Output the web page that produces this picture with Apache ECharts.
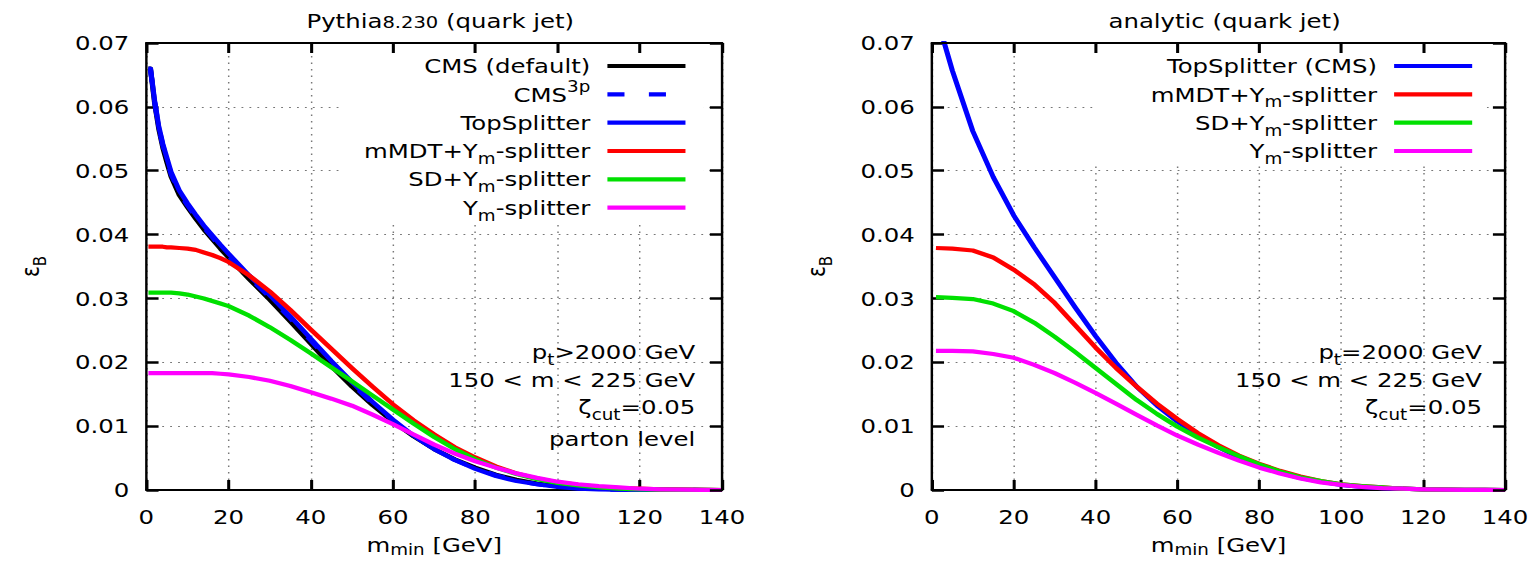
<!DOCTYPE html>
<html>
<head>
<meta charset="utf-8">
<script src="https://cdn.jsdelivr.net/npm/echarts@6.0.0/dist/echarts.min.js"></script>
<style>
html, body { margin: 0; padding: 0; background: #fff; overflow: hidden; }
/* the reference is stretched sideways, so draw narrow and scale on x */
#chart { width: 1261px; height: 562px; transform: scaleX(1.2197); transform-origin: 0 0; }
</style>
</head>
<body>
<div id="chart"></div>
<script>
// ---- data ----
var xLeft = [0.5, 1, 2, 3, 4, 5, 6, 8, 10, 12, 14, 16, 18, 20, 25, 30, 35, 40, 45, 50, 55, 60, 65, 70, 75, 80, 85, 90, 95, 100, 105, 110, 115, 120, 125, 130, 135, 140]
var cmsDefault = [0.0660, 0.0660, 0.0606, 0.0566, 0.0536, 0.0513, 0.0491, 0.0462, 0.0443, 0.0425, 0.0408, 0.0393, 0.0378, 0.0364, 0.0330, 0.0298, 0.0264, 0.0229, 0.0194, 0.0162, 0.0133, 0.0107, 0.0084, 0.0064, 0.0048, 0.0035, 0.0024, 0.0016, 0.0010, 0.0006, 0.0003, 0.0002, 0.0001, 0.0001, 0.00005, 0.00003, 0.00001, 0]
var cms3p = [0.0658, 0.0658, 0.0608, 0.0568, 0.0540, 0.0517, 0.0495, 0.0466, 0.0446, 0.0428, 0.0411, 0.0396, 0.0381, 0.0367, 0.0333, 0.0302, 0.0269, 0.0234, 0.0199, 0.0166, 0.0136, 0.0109, 0.0085, 0.0064, 0.0047, 0.0034, 0.0023, 0.0015, 0.0009, 0.0005, 0.0003, 0.0001, 0.00005, 0.00003, 0.00002, 0.00001, 0, 0]
var topSplitterL = [0.0660, 0.0660, 0.0610, 0.0570, 0.0542, 0.0520, 0.0498, 0.0469, 0.0449, 0.0431, 0.0414, 0.0399, 0.0384, 0.0370, 0.0336, 0.0305, 0.0272, 0.0237, 0.0202, 0.0169, 0.0138, 0.0110, 0.0085, 0.0064, 0.0047, 0.0033, 0.0022, 0.0014, 0.0009, 0.0005, 0.0002, 0.0001, 0.00005, 0.00003, 0.00002, 0.00001, 0, 0]
var mmdtL = [0.0381, 0.0381, 0.0381, 0.0381, 0.0381, 0.0380, 0.0380, 0.0379, 0.0378, 0.0376, 0.0372, 0.0368, 0.0363, 0.0357, 0.0336, 0.0311, 0.0282, 0.0251, 0.0221, 0.0191, 0.0162, 0.0134, 0.0109, 0.0087, 0.0067, 0.0051, 0.0037, 0.0026, 0.0018, 0.0012, 0.0008, 0.0005, 0.0003, 0.0002, 0.0001, 0.00005, 0.00002, 0]
var sdL = [0.0309, 0.0309, 0.0309, 0.0309, 0.0309, 0.0309, 0.0309, 0.0308, 0.0306, 0.0303, 0.0300, 0.0296, 0.0292, 0.0288, 0.0273, 0.0255, 0.0235, 0.0214, 0.0192, 0.0170, 0.0148, 0.0126, 0.0104, 0.0083, 0.0064, 0.0048, 0.0035, 0.0025, 0.0017, 0.0011, 0.0007, 0.0004, 0.0002, 0.0001, 0.00005, 0.00002, 0.00001, 0]
var ymL = [0.0183, 0.0183, 0.0183, 0.0183, 0.0183, 0.0183, 0.0183, 0.0183, 0.0183, 0.0183, 0.0183, 0.0183, 0.0182, 0.0181, 0.0177, 0.0171, 0.0163, 0.0153, 0.0143, 0.0132, 0.0118, 0.0103, 0.0087, 0.0071, 0.0057, 0.0045, 0.0035, 0.0026, 0.0019, 0.0013, 0.0009, 0.0006, 0.0004, 0.0002, 0.0001, 0.00005, 0.00002, 0]

var xRight = [1, 5, 10, 15, 20, 25, 30, 35, 40, 45, 50, 55, 60, 65, 70, 75, 80, 85, 90, 95, 100, 105, 110, 115, 120, 125, 130, 135, 140]
var topSplitterR = [0.0745, 0.0657, 0.0562, 0.0490, 0.0430, 0.0380, 0.0333, 0.0286, 0.0241, 0.0199, 0.0162, 0.0132, 0.0107, 0.0086, 0.0067, 0.0051, 0.0038, 0.0027, 0.0019, 0.0013, 0.0008, 0.0005, 0.0003, 0.0002, 0.0001, 0.00005, 0.00002, 0.00001, 0]
var mmdtR = [0.0379, 0.0378, 0.0375, 0.0364, 0.0345, 0.0322, 0.0293, 0.0258, 0.0223, 0.0191, 0.0162, 0.0135, 0.0111, 0.0089, 0.0070, 0.0054, 0.0041, 0.0030, 0.0021, 0.0014, 0.0009, 0.0006, 0.0004, 0.0002, 0.0001, 0.00005, 0.00002, 0.00001, 0]
var sdR = [0.0302, 0.0301, 0.0299, 0.0292, 0.0280, 0.0262, 0.0240, 0.0216, 0.0191, 0.0166, 0.0141, 0.0119, 0.0099, 0.0082, 0.0067, 0.0053, 0.0040, 0.0029, 0.0020, 0.0014, 0.0009, 0.0006, 0.0004, 0.0002, 0.0001, 0.00005, 0.00002, 0.00001, 0]
var ymR = [0.0218, 0.0218, 0.0217, 0.0213, 0.0207, 0.0196, 0.0183, 0.0168, 0.0152, 0.0135, 0.0118, 0.0101, 0.0085, 0.0071, 0.0058, 0.0046, 0.0035, 0.0026, 0.0018, 0.0012, 0.0008, 0.0005, 0.0003, 0.0002, 0.0001, 0.00005, 0.00002, 0.00001, 0]

var yTickLabels = ['0', '0.01', '0.02', '0.03', '0.04', '0.05', '0.06', '0.07']
var xTickLabels = ['0', '20', '40', '60', '80', '100', '120', '140']

// ---- styles ----
var FONT = 'DejaVu Sans'
var BLUE = '#0000ff', RED = '#ff0000', GREEN = '#00e000', MAGENTA = '#ff00ff'

var richC = {
  a: { fontSize: 20, fontFamily: FONT, color: '#000', lineHeight: 30 },
  b: { fontSize: 15, fontFamily: FONT, color: '#000', lineHeight: 15, verticalAlign: 'bottom' }
}
var richX = {
  a: { fontSize: 20, fontFamily: FONT, color: '#000', lineHeight: 24 },
  b: { fontSize: 15, fontFamily: FONT, color: '#000', lineHeight: 13, verticalAlign: 'bottom' }
}
var richG = {
  a: { fontSize: 20, fontFamily: FONT, fill: '#000', lineHeight: 30 },
  b: { fontSize: 15, fontFamily: FONT, fill: '#000', lineHeight: 15, verticalAlign: 'bottom' },
  p: { fontSize: 15, fontFamily: FONT, fill: '#000', lineHeight: 15, verticalAlign: 'top' }
}

function pairs (xs, ys) {
  return xs.map(function (x, i) { return [x, ys[i]] })
}

function xAx (gi, pos) {
  var main = pos === 'bottom'
  return {
    type: 'value', gridIndex: gi, position: pos, min: 0, max: 140, interval: 20, z: main ? 0 : 5,
    name: main ? '{a|m}{b|min}{a| [GeV]}' : '', nameLocation: 'middle', nameGap: 43,
    nameTextStyle: { rich: richX },
    axisLine: { show: true, onZero: false, lineStyle: { color: '#000', width: 2 } },
    axisTick: { show: true, inside: true, length: 10, lineStyle: { color: '#000', width: 2.5 } },
    axisLabel: {
      show: main, margin: 17, fontSize: 20, fontFamily: FONT, color: '#000',
      formatter: function (v) { return xTickLabels[Math.round(v / 20)] }
    },
    splitLine: { show: main, lineStyle: { color: '#777', width: 1.2, type: [1.5, 5] } }
  }
}
function yAx (gi, pos) {
  var main = pos === 'left'
  return {
    type: 'value', gridIndex: gi, position: pos, min: 0, max: 0.07, interval: 0.01, z: main ? 0 : 5,
    name: main ? '{a|ε}{b|B}' : '', nameLocation: 'middle', nameRotate: 90, nameGap: 80,
    nameTextStyle: { rich: richC },
    axisLine: { show: true, onZero: false, lineStyle: { color: '#000', width: 2 } },
    axisTick: { show: true, inside: true, length: 10, lineStyle: { color: '#000', width: 2.5 } },
    axisLabel: {
      show: main, margin: 14, fontSize: 20, fontFamily: FONT, color: '#000',
      formatter: function (v) { return yTickLabels[Math.round(v / 0.01)] }
    },
    splitLine: { show: main, lineStyle: { color: '#777', width: 1.2, type: [1.5, 5] } }
  }
}

function line (name, xs, ys, color, axis, extra) {
  var s = {
    name: name, type: 'line', xAxisIndex: axis, yAxisIndex: axis,
    data: pairs(xs, ys), showSymbol: false, symbol: 'none', clip: true,
    lineStyle: { color: color, width: 4.2, join: 'round' }, itemStyle: { color: color },
    smooth: false, z: 2
  }
  if (extra) s.lineStyle.type = extra
  return s
}

// legend + labels drawn as graphic text (right aligned like gnuplot's key)
var legendLeft = [
  ['{a|CMS (default)}', '#000', null],
  ['{a|CMS}{p|3p}', BLUE, [14, 20]],
  ['{a|TopSplitter}', BLUE, null],
  ['{a|mMDT+Y}{b|m}{a|-splitter}', RED, null],
  ['{a|SD+Y}{b|m}{a|-splitter}', GREEN, null],
  ['{a|Y}{b|m}{a|-splitter}', MAGENTA, null]
]
var legendRight = [
  ['{a|TopSplitter (CMS)}', BLUE, null],
  ['{a|mMDT+Y}{b|m}{a|-splitter}', RED, null],
  ['{a|SD+Y}{b|m}{a|-splitter}', GREEN, null],
  ['{a|Y}{b|m}{a|-splitter}', MAGENTA, null]
]
var notesLeft = ['{a|p}{b|t}{a|>2000 GeV}', '{a|150 < m < 225 GeV}', '{a|ζ}{b|cut}{a|=0.05}', '{a|parton level}']
var notesRight = ['{a|p}{b|t}{a|=2000 GeV}', '{a|150 < m < 225 GeV}', '{a|ζ}{b|cut}{a|=0.05}']

var graphics = []
function addText (x, y, txt) {
  graphics.push({
    type: 'text', z: 10, silent: true,
    style: { x: x, y: y, text: txt, rich: richG, align: 'right', verticalAlign: 'middle', fontFamily: FONT, fontSize: 20 }
  })
}
function addKey (items, textX, x1, x2, box) {
  graphics.push({ type: 'rect', z: 1, silent: true, shape: box, style: { fill: '#fff' } })
  items.forEach(function (it, i) {
    var y = 66 + i * 28.33
    addText(textX, y, it[0])
    graphics.push({
      type: 'line', z: 10, silent: true,
      shape: { x1: x1, y1: y, x2: x2, y2: y },
      style: { stroke: it[1], lineWidth: 4.2, lineDash: it[2] || null }
    })
  })
}
addKey(legendLeft, 484, 498, 562, { x: 279, y: 54, width: 298, height: 166 })
addKey(legendRight, 1129, 1143, 1207, { x: 896, y: 54, width: 323, height: 111 })
var noteRowsL = [352, 380, 407, 439]
notesLeft.forEach(function (t, i) { addText(570, noteRowsL[i], t) })
notesRight.forEach(function (t, i) { addText(1215, noteRowsL[i], t) })

var myChart = echarts.init(document.getElementById('chart'), null, { renderer: 'svg' })
var option = {
  backgroundColor: '#fff',
  animation: false,
  title: [
    {
      text: '{a|Pythia}{c|8.230}{a| (quark jet)}', left: 356, top: 4, textAlign: 'center',
      textStyle: {
        fontWeight: 'normal',
        rich: {
          a: { fontSize: 20, fontFamily: FONT, color: '#000', fontWeight: 'normal', lineHeight: 24 },
          c: { fontSize: 16, fontFamily: FONT, color: '#000', fontWeight: 'normal', lineHeight: 24, padding: [3, 0, 0, 0] }
        }
      }
    },
    {
      text: 'analytic (quark jet)', left: 999, top: 4, textAlign: 'center',
      textStyle: { fontSize: 20, fontFamily: FONT, color: '#000', fontWeight: 'normal', lineHeight: 24 }
    }
  ],
  grid: [
    { left: 120, width: 472, top: 43, bottom: 72, outerBoundsMode: 'none' },
    { left: 764, width: 470, top: 43, bottom: 72, outerBoundsMode: 'none' }
  ],
  xAxis: [xAx(0, 'bottom'), xAx(1, 'bottom'), xAx(0, 'top'), xAx(1, 'top')],
  yAxis: [yAx(0, 'left'), yAx(1, 'left'), yAx(0, 'right'), yAx(1, 'right')],
  series: [
    line('CMS (default)', xLeft, cmsDefault, '#000', 0),
    line('CMS3p', xLeft, cms3p, BLUE, 0, [14, 20]),
    line('TopSplitter', xLeft, topSplitterL, BLUE, 0),
    line('mMDT+Ym-splitter', xLeft, mmdtL, RED, 0),
    line('SD+Ym-splitter', xLeft, sdL, GREEN, 0),
    line('Ym-splitter', xLeft, ymL, MAGENTA, 0),
    line('TopSplitter (CMS)', xRight, topSplitterR, BLUE, 1),
    line('mMDT+Ym-splitter ', xRight, mmdtR, RED, 1),
    line('SD+Ym-splitter ', xRight, sdR, GREEN, 1),
    line('Ym-splitter ', xRight, ymR, MAGENTA, 1)
  ],
  graphic: { elements: graphics }
}
myChart.setOption(option)
</script>
</body>
</html>
